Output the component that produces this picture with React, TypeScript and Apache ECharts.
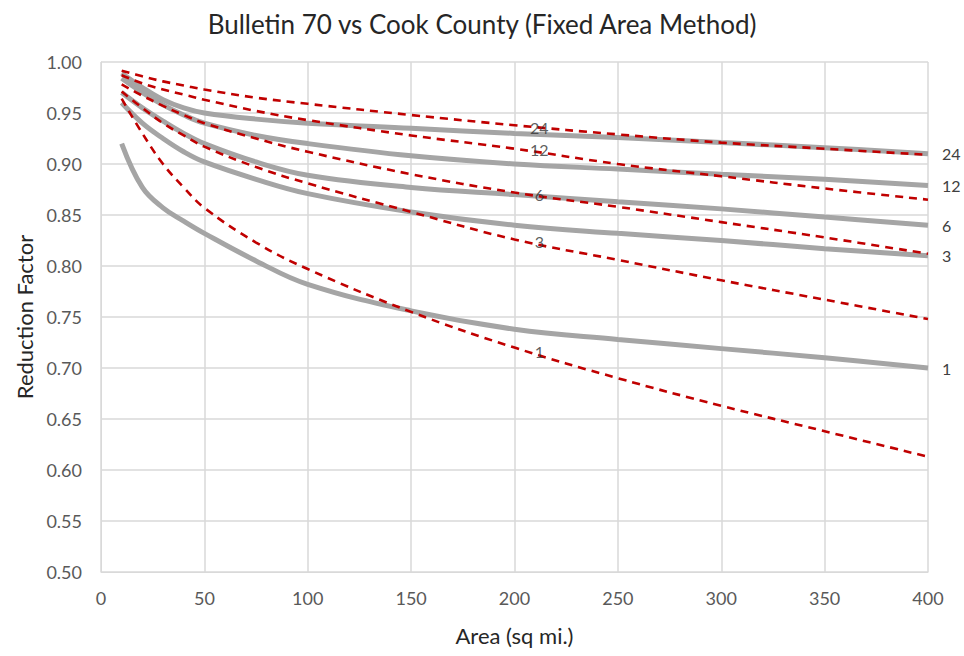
import React, { useEffect, useRef } from "react";
import * as echarts from "echarts";

const areas = [10, 20, 30, 40, 50, 75, 100, 150, 200, 250, 300, 350, 400];
const durations = ["1", "3", "6", "12", "24"];

const bulletin1 = [0.92, 0.877, 0.857, 0.844, 0.832, 0.805, 0.782, 0.756, 0.738, 0.728, 0.719, 0.71, 0.7];
const bulletin3 = [0.96, 0.94, 0.925, 0.912, 0.902, 0.885, 0.871, 0.853, 0.84, 0.832, 0.825, 0.817, 0.81];
const bulletin6 = [0.97, 0.955, 0.942, 0.93, 0.92, 0.902, 0.889, 0.877, 0.87, 0.863, 0.856, 0.848, 0.84];
const bulletin12 = [0.984, 0.97, 0.958, 0.948, 0.94, 0.928, 0.92, 0.908, 0.9, 0.895, 0.89, 0.885, 0.879];
const bulletin24 = [0.989, 0.975, 0.963, 0.955, 0.95, 0.944, 0.94, 0.935, 0.93, 0.926, 0.921, 0.916, 0.91];

const cook1 = [0.964, 0.93, 0.9, 0.877, 0.857, 0.823, 0.797, 0.755, 0.72, 0.69, 0.663, 0.638, 0.613];
const cook3 = [0.971, 0.955, 0.94, 0.928, 0.917, 0.897, 0.881, 0.853, 0.826, 0.806, 0.786, 0.767, 0.748];
const cook6 = [0.978, 0.967, 0.957, 0.948, 0.94, 0.925, 0.912, 0.89, 0.872, 0.858, 0.843, 0.828, 0.812];
const cook12 = [0.987, 0.979, 0.973, 0.968, 0.963, 0.952, 0.943, 0.928, 0.915, 0.9, 0.888, 0.876, 0.865];
const cook24 = [0.9915, 0.986, 0.981, 0.977, 0.973, 0.965, 0.959, 0.948, 0.938, 0.929, 0.921, 0.915, 0.909];

const cookLabelX = 212;
const cookLabelY = [0.716, 0.8245, 0.87, 0.914, 0.936];

const bulletinSets = [bulletin1, bulletin3, bulletin6, bulletin12, bulletin24];
const cookSets = [cook1, cook3, cook6, cook12, cook24];

const FONT = "Lato";

export default function App() {
  const ref = useRef<HTMLDivElement>(null);
  useEffect(() => {
    if (!ref.current) return;
    const chart = echarts.init(ref.current, null, { renderer: "svg" });
    const series: any[] = [];
    bulletinSets.forEach((vals, i) => {
      series.push({
        name: "Bulletin 70 " + durations[i],
        type: "line",
        data: areas.map((a, j) => [a, vals[j]]),
        smooth: 0.4,
        showSymbol: false,
        lineStyle: { color: "#A5A5A5", width: 5 },
        endLabel: {
          show: true,
          formatter: durations[i],
          distance: 14,
          color: "#404040",
          fontFamily: FONT,
          fontSize: 16,
        },
        z: 2,
      });
    });
    cookSets.forEach((vals, i) => {
      series.push({
        name: "Cook County " + durations[i],
        type: "line",
        data: areas.map((a, j) => [a, vals[j]]),
        smooth: 0.4,
        showSymbol: false,
        lineStyle: { color: "#C00000", width: 2.6, type: [8, 6] },
        z: 3,
      });
    });
    series.push({
      type: "scatter",
      data: cookLabelY.map((y, i) => ({ value: [cookLabelX, y], name: durations[i] })),
      symbolSize: 0,
      label: {
        show: true,
        position: "inside",
        formatter: (p: any) => p.name,
        color: "#333333",
        fontFamily: FONT,
        fontSize: 16,
      },
      z: 5,
    });

    chart.setOption({
      animation: false,
      backgroundColor: "#ffffff",
      title: {
        text: "Bulletin 70 vs Cook County (Fixed Area Method)",
        left: "center",
        top: 6,
        textStyle: { fontFamily: FONT, fontSize: 26, fontWeight: "normal", color: "#262626" },
      },
      grid: { left: 101, right: 36, top: 62, bottom: 84 },
      xAxis: {
        type: "value",
        min: 0,
        max: 400,
        interval: 50,
        name: "Area (sq mi.)",
        nameLocation: "middle",
        nameGap: 52,
        nameTextStyle: { fontFamily: FONT, fontSize: 22, color: "#262626" },
        axisLine: { show: true, lineStyle: { color: "#D9D9D9" } },
        axisTick: { show: false },
        axisLabel: { fontFamily: FONT, fontSize: 18, color: "#595959", margin: 17 },
        splitLine: { show: true, lineStyle: { color: "#D9D9D9", width: 1.5 } },
      },
      yAxis: {
        type: "value",
        min: 0.5,
        max: 1.0,
        interval: 0.05,
        name: "Reduction Factor",
        nameLocation: "middle",
        nameGap: 65,
        nameTextStyle: { fontFamily: FONT, fontSize: 22, color: "#262626" },
        axisLine: { show: true, lineStyle: { color: "#D9D9D9" } },
        axisTick: { show: false },
        axisLabel: {
          fontFamily: FONT,
          fontSize: 18,
          color: "#595959",
          margin: 19,
          formatter: (v: number) => v.toFixed(2),
        },
        splitLine: { show: true, lineStyle: { color: "#D9D9D9", width: 1.5 } },
      },
      series,
    });
    return () => chart.dispose();
  }, []);
  return (
    <div
      ref={ref}
      style={{ position: "fixed", left: 0, top: 0, width: 964, height: 656 }}
    />
  );
}
